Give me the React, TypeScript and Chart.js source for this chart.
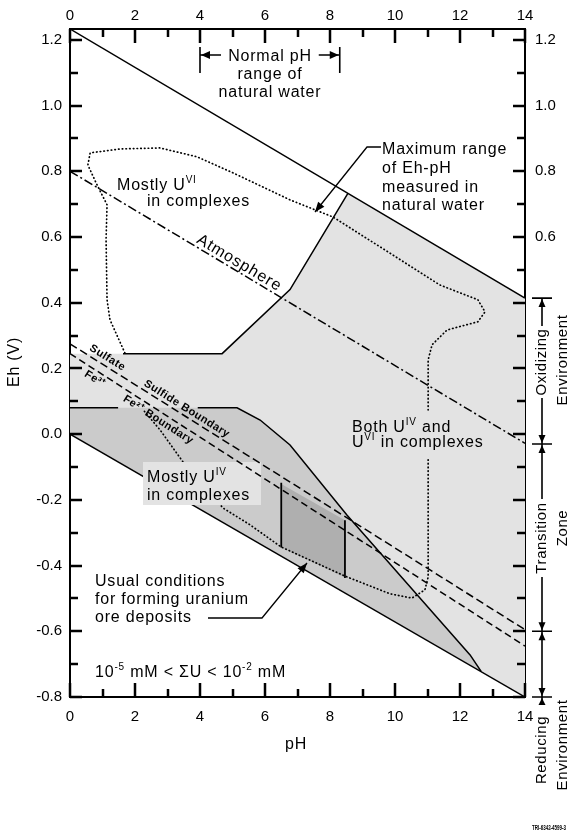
import React, { useEffect, useRef } from 'react';
import { Chart, registerables } from 'chart.js';

Chart.register(...registerables);

// ---------- axes ----------
const PH_MIN = 0;
const PH_MAX = 14;
const EH_MIN = -0.8;
const EH_MAX = 1.233;
const PH_TICKS = [0, 1, 2, 3, 4, 5, 6, 7, 8, 9, 10, 11, 12, 13, 14];
const EH_TICKS = [-0.8, -0.7, -0.6, -0.5, -0.4, -0.3, -0.2, -0.1, 0, 0.1, 0.2, 0.3, 0.4, 0.5, 0.6, 0.7, 0.8, 0.9, 1.0, 1.1, 1.2];

// ---------- water stability limits ----------
const upperWaterPH = [0, 14];
const upperWaterEh = [1.233, 0.414];
const lowerWaterPH = [0, 14];
const lowerWaterEh = [0.0, -0.8];

// ---------- reference lines ----------
const atmospherePH = [0, 14];
const atmosphereEh = [0.8, -0.028];
const sulfatePH = [0, 14];
const sulfateEh = [0.275, -0.595];
const ironPH = [0, 14];
const ironEh = [0.245, -0.645];

// ---------- maximum range of Eh-pH in natural water (light region) ----------
const maxRangePH = [0, 0, 4.68, 6.77, 8.55, 14, 14, 0];
const maxRangeEh = [0, 0.245, 0.245, 0.44, 0.733, 0.414, -0.8, 0];
const maxRangeEdgePH = [1.63, 4.68, 6.77, 8.55];
const maxRangeEdgeEh = [0.245, 0.245, 0.44, 0.733];

// ---------- mostly U(IV) region (mid grey) ----------
const uivPH = [0, 0, 5.14, 5.85, 6.77, 8.52, 10.55, 12.31, 12.65, 0];
const uivEh = [0, 0.08, 0.08, 0.043, -0.033, -0.246, -0.474, -0.672, -0.722, 0];
const uivEdgePH = [0, 1.48, 1.48, 3.93, 5.14, 5.85, 6.77, 8.52, 10.55, 12.31, 12.65];
const uivEdgeEh = [0.08, 0.08, null, 0.08, 0.08, 0.043, -0.033, -0.246, -0.474, -0.672, -0.722];

// ---------- usual conditions for ore deposits (dark region) ----------
const orePH = [6.5, 6.5, 8.46, 8.46];
const oreEh = [-0.152, -0.345, -0.436, -0.262];
const oreEdgePH = [6.5, 6.5, 6.5, 8.46, 8.46];
const oreEdgeEh = [-0.148, -0.345, null, -0.262, -0.438];

// ---------- dotted complexation boundary ----------
const contourPH = [1.69, 1.23, 1.14, 1.11, 1.14, 0.83, 0.55, 0.62, 1.54, 2.77, 3.91, 5.02, 6.77, 8.09, 9.54, 11.38, 12.55, 12.77, 12.55, 11.6, 11.14, 11.02, 11.02, 11.02, 11.02, 11.02, 10.92, 10.52, 9.85, 8.46, 6.49, 5.54, 4.71, 3.48, 2.77, 2.25];
const contourEh = [0.247, 0.348, 0.409, 0.591, 0.698, 0.759, 0.819, 0.856, 0.868, 0.871, 0.844, 0.795, 0.713, 0.661, 0.57, 0.454, 0.409, 0.372, 0.342, 0.317, 0.272, 0.226, 0.074, null, -0.078, -0.435, -0.474, -0.499, -0.486, -0.432, -0.343, -0.276, -0.225, -0.085, 0.013, 0.074];

// ---------- environment brackets on right (Eh) ----------
const envBoundsEh = [0.414, -0.03, -0.6, -0.8];

const LIGHT = '#e3e3e3';
const MID = '#cbcbcb';
const DARK = '#afafaf';
const FONT = '"Liberation Sans", Arial, Helvetica, sans-serif';

const pts = (xs: number[], ys: (number | null)[]) => xs.map((x, i) => ({ x, y: ys[i] }));

function drawRich(ctx: CanvasRenderingContext2D, parts: [string, boolean][], x: number, y: number, size: number) {
  let cx = x;
  for (const [t, sup] of parts) {
    ctx.font = `${sup ? Math.round(size * 0.62) : size}px ${FONT}`;
    ctx.fillText(t, cx, sup ? y - size * 0.42 : y);
    cx += ctx.measureText(t).width;
  }
}

function arrowHead(ctx: CanvasRenderingContext2D, fx: number, fy: number, tx: number, ty: number, len = 9, w = 3.5) {
  const a = Math.atan2(ty - fy, tx - fx);
  ctx.beginPath();
  ctx.moveTo(tx, ty);
  ctx.lineTo(tx - len * Math.cos(a) + w * Math.sin(a), ty - len * Math.sin(a) - w * Math.cos(a));
  ctx.lineTo(tx - len * Math.cos(a) - w * Math.sin(a), ty - len * Math.sin(a) + w * Math.cos(a));
  ctx.closePath();
  ctx.fill();
}

function polyArrow(ctx: CanvasRenderingContext2D, p: number[][]) {
  ctx.beginPath();
  ctx.moveTo(p[0][0], p[0][1]);
  for (let i = 1; i < p.length; i++) ctx.lineTo(p[i][0], p[i][1]);
  ctx.stroke();
  const n = p.length;
  arrowHead(ctx, p[n - 2][0], p[n - 2][1], p[n - 1][0], p[n - 1][1], 10, 4);
}

export default function App() {
  const ref = useRef<HTMLCanvasElement | null>(null);
  useEffect(() => {
    document.body.style.margin = '0';
    const canvas = ref.current;
    if (!canvas) return;

    const annotPlugin = {
      id: 'annot',
      afterDatasetDraw(chart: any, args: any) {
        if (args.index !== 4) return;
        const ctx = chart.ctx;
        ctx.save();
        ctx.fillStyle = LIGHT;
        ctx.fillRect(143, 462, 118, 43);
        ctx.restore();
      },
      afterDraw(chart: any) {
        const ctx: CanvasRenderingContext2D = chart.ctx;
        const xs = chart.scales.x;
        const ys = chart.scales.y;
        const X = (v: number) => xs.getPixelForValue(v);
        const Y = (v: number) => ys.getPixelForValue(v);
        ctx.save();
        ctx.setLineDash([]);
        ctx.fillStyle = '#000';
        ctx.strokeStyle = '#000';

        // inward tick marks at every axis tick value
        const L = X(PH_MIN), R = X(PH_MAX), T = Y(EH_MAX), B = Y(EH_MIN);
        for (const v of PH_TICKS) {
          const px = Math.round(X(v));
          const len = v % 2 === 0 ? 14 : 8;
          ctx.fillRect(px - 1.25, B - len, 2.5, len);
          ctx.fillRect(px - 1.25, T, 2.5, len);
        }
        for (const e of EH_TICKS) {
          const py = Math.round(Y(e));
          const len = Math.round(e * 10) % 2 === 0 ? 12 : 8;
          ctx.fillRect(L, py - 1.25, len, 2.5);
          ctx.fillRect(R - len, py - 1.25, len, 2.5);
        }

        const along = (ph: number[], eh: number[], at: number, text: string, off: number, font: string) => {
          const x0 = X(ph[0]), y0 = Y(eh[0]), x1 = X(ph[1]), y1 = Y(eh[1]);
          const ang = Math.atan2(y1 - y0, x1 - x0);
          const t = (at - ph[0]) / (ph[1] - ph[0]);
          const px = x0 + t * (x1 - x0), py = y0 + t * (y1 - y0);
          ctx.save();
          ctx.translate(px + Math.sin(ang) * off, py - Math.cos(ang) * off);
          ctx.rotate(ang);
          ctx.font = font;
          ctx.textAlign = 'center';
          ctx.textBaseline = 'middle';
          ctx.fillText(text, 0, 0);
          ctx.restore();
        };
        (ctx as any).letterSpacing = '1px';
        along(atmospherePH, atmosphereEh, 5.08, 'Atmosphere', 8, `16px ${FONT}`);
        (ctx as any).letterSpacing = '0.5px';
        along(sulfatePH, sulfateEh, 1.02, 'Sulfate', 8, `bold 11px ${FONT}`);
        along(sulfatePH, sulfateEh, 3.48, 'Sulfide Boundary', 7, `bold 11px ${FONT}`);
        along(ironPH, ironEh, 0.9, 'Fe³⁺', -8, `bold 11px ${FONT}`);
        along(ironPH, ironEh, 2.85, 'Fe²⁺ Boundary', -8, `bold 11px ${FONT}`);

        ctx.textBaseline = 'alphabetic';
        ctx.textAlign = 'left';
        (ctx as any).letterSpacing = '0.8px';
        const S = 16;
        drawRich(ctx, [['Mostly U', false], ['VI', true]], 117, 190, S);
        drawRich(ctx, [['in complexes', false]], 147, 206, S);
        drawRich(ctx, [['Both U', false], ['IV', true], [' and', false]], 352, 432, S);
        drawRich(ctx, [['U', false], ['VI', true], [' in complexes', false]], 352, 447, S);
        drawRich(ctx, [['Mostly U', false], ['IV', true]], 147, 482, S);
        drawRich(ctx, [['in complexes', false]], 147, 500, S);
        drawRich(ctx, [['Usual conditions', false]], 95, 586, S);
        drawRich(ctx, [['for forming uranium', false]], 95, 604, S);
        drawRich(ctx, [['ore deposits', false]], 95, 622, S);
        drawRich(ctx, [['10', false], ['-5', true], [' mM < ΣU < 10', false], ['-2', true], [' mM', false]], 95, 677, S);
        drawRich(ctx, [['Maximum range', false]], 382, 154, S);
        drawRich(ctx, [['of Eh-pH', false]], 382, 173, S);
        drawRich(ctx, [['measured in', false]], 382, 192, S);
        drawRich(ctx, [['natural water', false]], 382, 210, S);

        ctx.textAlign = 'center';
        ctx.font = `${S}px ${FONT}`;
        ctx.fillText('Normal pH', 270, 61);
        ctx.fillText('range of', 270, 79);
        ctx.fillText('natural water', 270, 97);

        ctx.lineWidth = 1.6;
        const b0 = X(4), b1 = X(8.3);
        ctx.beginPath();
        ctx.moveTo(b0, 47); ctx.lineTo(b0, 73);
        ctx.moveTo(b1, 47); ctx.lineTo(b1, 73);
        ctx.moveTo(b0, 55); ctx.lineTo(b0 + 21, 55);
        ctx.moveTo(b1, 55); ctx.lineTo(b1 - 21, 55);
        ctx.stroke();
        arrowHead(ctx, b0 + 20, 55, b0 + 1, 55, 9, 4);
        arrowHead(ctx, b1 - 20, 55, b1 - 1, 55, 9, 4);

        ctx.lineWidth = 1.3;
        polyArrow(ctx, [[381, 147], [367, 147], [315, 212]]);
        polyArrow(ctx, [[208, 618], [262, 618], [307, 563]]);

        ctx.font = `16px ${FONT}`;
        ctx.textAlign = 'center';
        ctx.textBaseline = 'middle';
        ctx.fillText('pH', 296, 745);
        ctx.save();
        ctx.translate(15, 362);
        ctx.rotate(-Math.PI / 2);
        ctx.fillText('Eh (V)', 0, 0);
        ctx.restore();

        const bx = 542;
        const c = envBoundsEh.map(Y);
        ctx.lineWidth = 1.6;
        ctx.beginPath();
        for (const cy of c) { ctx.moveTo(bx - 10, cy); ctx.lineTo(bx + 10, cy); }
        const segs: number[][] = [[c[0], 326], [398, c[1]], [c[1], 499], [577, c[2]], [c[2], c[3]], [c[3], c[3] + 8]];
        for (const [a, b] of segs) { ctx.moveTo(bx, a); ctx.lineTo(bx, b); }
        ctx.stroke();
        arrowHead(ctx, bx, c[0] + 12, bx, c[0] + 1, 8, 3.5);
        arrowHead(ctx, bx, c[1] - 12, bx, c[1] - 1, 8, 3.5);
        arrowHead(ctx, bx, c[1] + 12, bx, c[1] + 1, 8, 3.5);
        arrowHead(ctx, bx, c[2] - 12, bx, c[2] - 1, 8, 3.5);
        arrowHead(ctx, bx, c[2] + 12, bx, c[2] + 1, 8, 3.5);
        arrowHead(ctx, bx, c[3] - 12, bx, c[3] - 1, 8, 3.5);
        arrowHead(ctx, bx, c[3] + 10, bx, c[3] + 1, 7, 3.5);

        const vtext = (t: string, x: number, y: number) => {
          ctx.save();
          ctx.translate(x, y);
          ctx.rotate(-Math.PI / 2);
          ctx.fillText(t, 0, 0);
          ctx.restore();
        };
        ctx.font = `15px ${FONT}`;
        (ctx as any).letterSpacing = '0.6px';
        vtext('Oxidizing', bx, 362);
        vtext('Environment', 563, 360);
        vtext('Transition', bx, 538);
        vtext('Zone', 563, 528);
        vtext('Reducing', bx, 750);
        vtext('Environment', 563, 745);

        (ctx as any).letterSpacing = '0px';
        ctx.font = `bold 7px ${FONT}`;
        ctx.textAlign = 'right';
        ctx.fillText('TRI-6342-4599-3', 566, 828, 34);
        ctx.restore();
      },
    };

    const tickFont = { family: FONT, size: 15 };
    const xTicks = {
      stepSize: 1,
      autoSkip: false,
      maxRotation: 0,
      color: '#000',
      font: tickFont,
      callback: (v: any) => (Math.round(v) % 2 === 0 ? String(Math.round(v)) : ''),
    };
    const yLabel = (v: any) => {
      const t = Math.round(v * 10);
      return t % 2 === 0 ? (t / 10).toFixed(1) : '';
    };
    const yLabelRight = (v: any) => {
      const t = Math.round(v * 10);
      return t % 2 === 0 && t >= 6 ? (t / 10).toFixed(1) : '';
    };
    const border = { display: true, color: '#000', width: 2 };
    const grid = { display: false, drawTicks: false };
    const line = (data: any[], color: string, width: number, dash: number[], order: number, extra: any = {}) => ({
      data,
      showLine: true,
      pointRadius: 0,
      borderColor: color,
      borderWidth: width,
      borderDash: dash,
      tension: 0,
      fill: false,
      order,
      ...extra,
    });
    const poly = (data: any[], color: string, order: number) => ({
      data,
      showLine: true,
      pointRadius: 0,
      borderColor: 'rgba(0,0,0,0)',
      borderWidth: 0,
      backgroundColor: color,
      fill: 'shape',
      tension: 0,
      order,
    });
    const chart = new Chart(canvas, {
      type: 'scatter',
      data: {
        datasets: [
          poly(pts(maxRangePH, maxRangeEh), LIGHT, 30),
          poly(pts(uivPH, uivEh), MID, 29),
          poly(pts(orePH, oreEh), DARK, 28),
          line(pts(lowerWaterPH, lowerWaterEh), '#000', 1.5, [], 20),
          line(pts(contourPH, contourEh), '#000', 1.7, [0.5, 3.2], 19, { borderCapStyle: 'round' }),
          line(pts(maxRangeEdgePH, maxRangeEdgeEh), '#000', 1.5, [], 10),
          line(pts(uivEdgePH, uivEdgeEh), '#000', 1.5, [], 9),
          line(pts(oreEdgePH, oreEdgeEh), '#000', 1.8, [], 8),
          line(pts(upperWaterPH, upperWaterEh), '#000', 1.5, [], 7),
          line(pts(atmospherePH, atmosphereEh), '#000', 1.5, [9, 3, 2, 3], 6),
          line(pts(sulfatePH, sulfateEh), '#000', 1.5, [8, 4], 5),
          line(pts(ironPH, ironEh), '#000', 1.5, [7, 4], 4),
        ] as any,
      },
      options: {
        responsive: false,
        devicePixelRatio: 1,
        animation: false,
        events: [],
        layout: { padding: 0, autoPadding: false } as any,
        plugins: { legend: { display: false }, tooltip: { enabled: false } },
        scales: {
          x: {
            type: 'linear', position: 'bottom', min: PH_MIN, max: PH_MAX,
            ticks: { ...xTicks, padding: 11 }, grid, border,
            afterFit: (s: any) => { s.height = 142; },
          },
          x2: {
            type: 'linear', position: 'top', min: PH_MIN, max: PH_MAX,
            ticks: { ...xTicks, padding: 4 }, grid, border,
            afterFit: (s: any) => { s.height = 29; },
          },
          y: {
            type: 'linear', position: 'left', min: EH_MIN, max: EH_MAX,
            ticks: { stepSize: 0.1, includeBounds: false, autoSkip: false, color: '#000', font: tickFont, padding: 8, callback: yLabel },
            grid, border,
            afterFit: (s: any) => { s.width = 70; },
          },
          y2: {
            type: 'linear', position: 'right', min: EH_MIN, max: EH_MAX,
            ticks: { stepSize: 0.1, includeBounds: false, autoSkip: false, color: '#000', font: tickFont, padding: 10, callback: yLabelRight },
            grid, border,
            afterFit: (s: any) => { s.width = 46; },
          },
        } as any,
      },
      plugins: [annotPlugin as any],
    });
    return () => chart.destroy();
  }, []);
  return <canvas ref={ref} width={571} height={839} style={{ display: 'block', width: 571, height: 839 }} />;
}
